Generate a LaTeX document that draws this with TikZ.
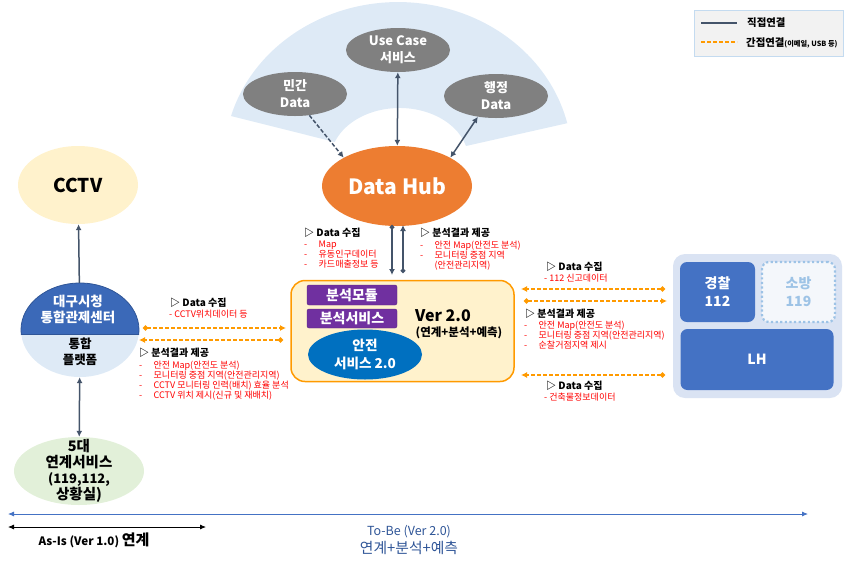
\documentclass[tikz,border=0pt]{standalone}
\usepackage{fontspec}
\setmainfont{Noto Sans CJK KR}
\usetikzlibrary{calc,arrows.meta,shapes.geometric}
\definecolor{fanblue}{HTML}{DEEAF6}
\definecolor{slateline}{HTML}{44546A}
\definecolor{hubfill}{HTML}{ED7D31}
\definecolor{dashorange}{HTML}{FF9A00}
\definecolor{paleyellow}{HTML}{FFF2CC}
\definecolor{midblue}{HTML}{4472C4}
\definecolor{ctrlblue}{HTML}{3B69B8}
\definecolor{panelblue}{HTML}{DAE3F3}
\definecolor{softblue}{HTML}{9DC3E6}
\definecolor{palegreen}{HTML}{E2F0D9}
\definecolor{modpurple}{HTML}{7030A0}
\definecolor{svcblue}{HTML}{0070C0}
\definecolor{tobeblue}{HTML}{2F5597}
\tikzset{
  oval/.style={ellipse,inner sep=-10pt,align=center},
  grayoval/.style={oval,fill=black!50,text=white,minimum width=104pt,minimum height=44pt,
    font=\fontsize{13}{17}\selectfont\bfseries},
  modbox/.style={draw=modpurple!80!black,fill=modpurple,rounded corners=2pt,text=white,inner sep=0pt,
    minimum width=90pt,font=\fontsize{14}{15}\selectfont\bfseries},
  orgbox/.style={rounded corners=7pt,inner sep=0pt,align=center,
    font=\fontsize{14}{18}\selectfont\bfseries},
  solidlink/.style={draw=slateline,line width=1.5pt,{Latex[length=6pt,width=6pt]}-{Latex[length=6pt,width=6pt]}},
  onelink/.style={draw=slateline,line width=1.5pt,-{Latex[length=6pt,width=6pt]}},
  duallink/.style={draw=slateline,line width=1.5pt,{Circle[length=4.5pt]}-{Latex[length=6pt,width=6pt]}},
  dashlink/.style={draw=dashorange,line width=1.3pt,dash pattern=on 4pt off 2pt,
    {Circle[length=5pt]}-{Latex[length=6pt,width=6pt]}},
  head/.style={anchor=west,inner sep=0pt,font=\fontsize{10}{10}\selectfont\bfseries},
  redlist/.style={anchor=north west,inner sep=0pt,align=left,text=red,
    font=\fontsize{9}{10}\selectfont},
}
\newcommand{\dashitem}{\makebox[14.5pt][l]{-}}
\begin{document}
\begin{tikzpicture}[x=1pt,y=-1pt]
  \useasboundingbox (0,0) rectangle (847,566);
  \fill[fanblue] (231,116) arc[start angle=163.8,end angle=13.5,x radius=174pt,y radius=158pt]
     -- (466,146) arc[start angle=15.6,end angle=159.8,x radius=69pt,y radius=52pt] -- cycle;

  \node[oval,fill=hubfill,text=white,minimum width=150pt,minimum height=80pt,
    font=\fontsize{21}{24}\selectfont\bfseries] (hub) at (397,186) {Data Hub};
  \node[grayoval] (usecase) at (398,50) {Use Case\\서비스};
  \node[grayoval] (civil) at (295,94) {민간\\Data};
  \node[grayoval] (admin) at (496,96) {행정\\Data};
  \draw[onelink,dash pattern=on 4pt off 2pt] (civil.304) -- (hub.152);
  \draw[solidlink] (usecase) -- (hub);
  \draw[solidlink] (admin.229) -- (hub.28);

  \node[oval,fill=paleyellow,minimum width=120pt,minimum height=78pt,
    font=\fontsize{19}{20}\selectfont\bfseries] (cctv) at (78,185) {CCTV};
  \node[oval,fill=fanblue,minimum width=118pt,minimum height=94pt] (platform) at (80,330) {};
  \begin{scope}
    \clip (0,270) rectangle (160,334);
    \fill[ctrlblue] (80,330) ellipse[x radius=59pt,y radius=47pt];
    \draw[tobeblue,line width=0.8pt] (80,330) ellipse[x radius=59pt,y radius=47pt];
  \end{scope}
  \draw[tobeblue,line width=0.8pt] (21,334) -- (139,334);
  \node[align=center,text=white,inner sep=0pt,font=\fontsize{13.5}{15.5}\selectfont\bfseries] (ctrltext) at (78,309.5) {대구시청\\통합관제센터};
  \node[align=center,inner sep=0pt,font=\fontsize{12.5}{16}\selectfont\bfseries] (plattext) at (80,351.5) {통합\\플랫폼};
  \node[oval,fill=palegreen,minimum width=130pt,minimum height=68pt,
    font=\fontsize{14.5}{16}\selectfont\bfseries] (linked) at (79,471) {5대\\연계서비스\\{\fontsize{13}{16}\selectfont (119,112,}\\상황실)};
  \draw[onelink] (platform) -- (cctv);
  \draw[solidlink] (platform) -- (linked);

  \node[draw=dashorange,line width=1.5pt,fill=paleyellow,rounded corners=14pt,minimum width=223pt,
    minimum height=101pt,inner sep=0pt] (verbox) at (402.5,331) {};
  \node[modbox,minimum height=20pt] (module) at (352,295) {분석모듈};
  \node[modbox,minimum height=19pt] (anasvc) at (352,318.5) {분석서비스};
  \node[oval,fill=svcblue,text=white,minimum width=114pt,minimum height=50pt,
    font=\fontsize{13.6}{18}\selectfont\bfseries] (safety) at (365,354.5) {안전\\서비스 2.0};
  \node[inner sep=0pt,font=\fontsize{16}{20}\selectfont\bfseries] (vername) at (443,316) {Ver 2.0};
  \node[inner sep=0pt,font=\fontsize{11.5}{13}\selectfont\bfseries] (verdesc) at (459,333) {(연계+분석+예측)};

  \coordinate (hubA) at (392,225);
  \coordinate (hubB) at (392,275);
  \coordinate (hubC) at (403,273);
  \coordinate (hubD) at (403,225);
  \draw[duallink] (hubA) -- (hubB);
  \draw[duallink] (hubC) -- (hubD);

  \node[head] (hubin) at (304,233) {▷ Data 수집};
  \node[redlist] (hubinlist) at (304,240.5) {\dashitem Map\\\dashitem 유동인구데이터\\\dashitem 카드매출정보 등};
  \node[head] (hubout) at (420,233) {▷ 분석결과 제공};
  \node[redlist] (huboutlist) at (420,241) {\dashitem 안전 Map(안전도 분석)\\\dashitem 모니터링 중점 지역\\\hspace*{14.5pt}(안전관리지역)};

  \coordinate (leftA) at (143,328);
  \coordinate (leftB) at (286,328);
  \coordinate (leftC) at (283,340);
  \coordinate (leftD) at (139,340);
  \draw[dashlink] (leftA) -- (leftB);
  \draw[dashlink] (leftC) -- (leftD);
  \node[head] (leftin) at (170,303) {▷ Data 수집};
  \node[redlist] (leftinlist) at (169,310) {- CCTV위치데이터 등};
  \node[head] (leftout) at (139,353) {▷ 분석결과 제공};
  \node[redlist] (leftoutlist) at (139,360.5) {\dashitem 안전 Map(안전도 분석)\\\dashitem 모니터링 중점 지역(안전관리지역)\\\dashitem CCTV 모니터링 인력(배치) 효율 분석\\\dashitem CCTV 위치 제시(신규 및 재배치)};

  \coordinate (rightA) at (665,289);
  \coordinate (rightB) at (521,289);
  \coordinate (rightC) at (524,301);
  \coordinate (rightD) at (667,301);
  \coordinate (rightE) at (665,375);
  \coordinate (rightF) at (521,375);
  \draw[dashlink] (rightA) -- (rightB);
  \draw[dashlink] (rightC) -- (rightD);
  \draw[dashlink] (rightE) -- (rightF);
  \node[head] (rightin) at (546,267) {▷ Data 수집};
  \node[redlist] (rightinlist) at (544,274) {- 112 신고데이터};
  \node[head] (rightout) at (525,314) {▷ 분석결과 제공};
  \node[redlist] (rightoutlist) at (524,321) {\dashitem 안전 Map(안전도 분석)\\\dashitem 모니터링 중점 지역(안전관리지역)\\\dashitem 순찰거점지역 제시};
  \node[head] (bldin) at (546,386) {▷ Data 수집};
  \node[redlist] (bldinlist) at (544,393) {- 건축물정보데이터};

  \node[fill=panelblue,rounded corners=12pt,minimum width=169pt,minimum height=144pt,inner sep=0pt] (panel) at (757.5,326) {};
  \node[orgbox,fill=midblue,text=white,minimum width=75pt,minimum height=60pt] (police) at (717.5,292) {경찰\\112};
  \node[orgbox,draw=softblue,line width=2.2pt,dash pattern=on 2.2pt off 2.4pt,fill=panelblue!30,text=softblue,minimum width=73pt,minimum height=60pt] (fire) at (798.5,292) {소방\\119};
  \node[orgbox,fill=midblue,text=white,minimum width=153pt,minimum height=61pt] (lh) at (757,359.5) {LH};

  \node[draw=softblue!60,fill=black!5,minimum width=149pt,minimum height=46pt,inner sep=0pt] (legend) at (768.5,33) {};
  \coordinate (legA) at (701,23);
  \coordinate (legB) at (737,23);
  \coordinate (legC) at (701,42);
  \coordinate (legD) at (737,42);
  \draw[slateline,line width=1.3pt] (legA) -- (legB);
  \draw[dashorange,line width=1.2pt,dash pattern=on 4pt off 2pt] (legC) -- (legD);
  \node[anchor=west,inner sep=0pt,font=\fontsize{10.4}{12}\selectfont\bfseries] (legsolid) at (747,23) {직접연결};
  \node[anchor=west,inner sep=0pt,font=\fontsize{10.4}{12}\selectfont\bfseries] (legdash) at (746,43) {간접연결{\fontsize{7.2}{8}\selectfont(이메일, USB 등)}};

  \coordinate (tobeL) at (8,514);
  \coordinate (tobeR) at (808,514);
  \coordinate (asisL) at (8,527);
  \coordinate (asisR) at (206,527);
  \draw[midblue,line width=0.8pt,{Latex[length=6pt,width=5pt]}-{Latex[length=6pt,width=5pt]}] (tobeL) -- (tobeR);
  \draw[black,line width=0.8pt,{Latex[length=6pt,width=5pt]}-{Latex[length=6pt,width=5pt]}] (asisL) -- (asisR);
  \node[inner sep=0pt,font=\fontsize{11.6}{14}\selectfont\bfseries] (asis) at (94,540) {As-Is (Ver 1.0) {\fontsize{15}{16}\selectfont 연계}};
  \node[inner sep=0pt,text=tobeblue,font=\fontsize{12.5}{14}\selectfont] (tobe) at (409,532) {To-Be (Ver 2.0)};
  \node[inner sep=0pt,text=tobeblue,font=\fontsize{14.8}{16}\selectfont] (tobedesc) at (409,548) {연계+분석+예측};
\end{tikzpicture}
\end{document}
